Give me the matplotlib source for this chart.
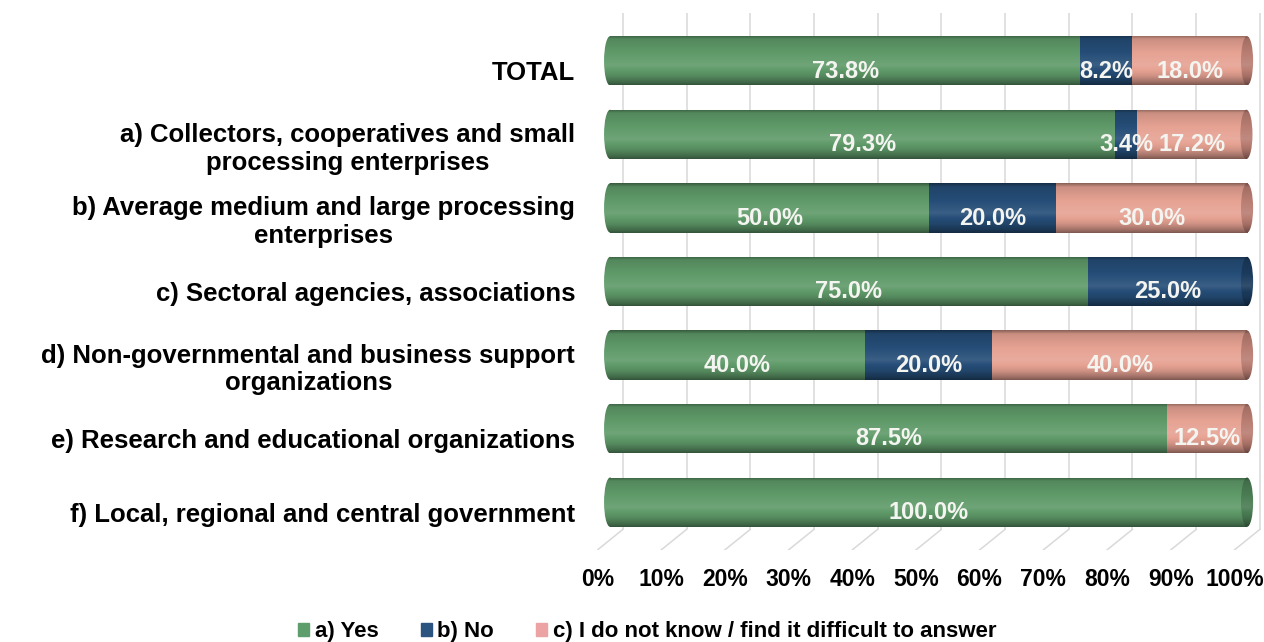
import numpy as np
import matplotlib
matplotlib.use('Agg')
import matplotlib.pyplot as plt
from matplotlib.patches import Rectangle, Ellipse, Patch
from matplotlib.colors import to_rgb, ListedColormap
from matplotlib.transforms import ScaledTranslation

plt.rcParams['font.family'] = ['Liberation Sans', 'DejaVu Sans']
plt.rcParams['font.weight'] = 'bold'

categories = ['TOTAL',
              'a) Collectors, cooperatives and small\nprocessing enterprises',
              'b) Average medium and large processing\nenterprises',
              'c) Sectoral agencies, associations',
              'd) Non-governmental and business support\norganizations',
              'e) Research and educational organizations',
              'f) Local, regional and central government']
yes = [73.8, 79.3, 50.0, 75.0, 40.0, 87.5, 100.0]
no = [8.2, 3.4, 20.0, 25.0, 20.0, 0.0, 0.0]
dont_know = [18.0, 17.2, 30.0, 0.0, 40.0, 12.5, 0.0]
series_names = ['a) Yes', 'b) No', 'c) I do not know / find it difficult to answer']
ticks = [0, 10, 20, 30, 40, 50, 60, 70, 80, 90, 100]

body_colors = ['#5f9a69', '#254d77', '#e6a293']
cap_colors = ['#4a7c53', '#1b3b5d', '#b97d72']
legend_colors = ['#5e9e6c', '#2b5480', '#eba3a3']

DEPTH_X = 2.0      # half of the 3d depth, in % units
BAR_H = 0.67       # cylinder thickness in category units
CAP_RX = 0.95      # half-width of the elliptical ends


def shade(rgb, f):
    c = np.array(rgb)
    if f < 1:
        return c * f
    return c + (1 - c) * (f - 1)


def cyl_cmap(color):
    # darker top/bottom, lighter band a bit below the middle
    t = np.linspace(0, 1, 64)
    prof = np.interp(t, [0, 0.07, 0.35, 0.6, 0.82, 0.95, 1.0],
                     [0.6, 0.88, 1.0, 1.1, 0.9, 0.68, 0.55])
    base = to_rgb(color)
    return ListedColormap([shade(base, f) for f in prof])


def gradient(ax, patch, x0, x1, yc, cmap, z):
    ax.add_patch(patch)
    patch.set_visible(False)
    grad = np.linspace(0, 1, 64).reshape(-1, 1)
    im = ax.imshow(grad, cmap=cmap, aspect='auto', origin='upper',
                   extent=(x0, x1, yc + BAR_H / 2, yc - BAR_H / 2),
                   interpolation='bilinear', zorder=z)
    im.set_clip_path(patch)


fig = plt.figure(figsize=(12.64, 6.42), dpi=100)
ax = fig.add_axes([0.4726, 0.1433, 0.5266, 0.8364])

n = len(categories)
y_top, y_front, y_back = -0.65, n - 1 + 0.65, n - 1 + 0.37

# back wall gridlines + floor lines
for v in ticks:
    ax.plot([v + DEPTH_X, v + DEPTH_X], [y_top, y_back], color='#d9d9d9', lw=1.1, zorder=0)
    ax.plot([v + DEPTH_X, v - DEPTH_X], [y_back, y_front], color='#d9d9d9', lw=1.1, zorder=0)

series = [yes, no, dont_know]
cmaps = [cyl_cmap(c) for c in body_colors]
cap_cmaps = [cyl_cmap(c) for c in cap_colors]

for i in range(n):
    left = 0.0
    vals = [s[i] for s in series]
    last = max(k for k in range(3) if vals[k] > 0)
    first = min(k for k in range(3) if vals[k] > 0)
    for k in range(3):
        v = vals[k]
        if v <= 0:
            continue
        z = 2 + k * 0.1
        if k == first:
            gradient(ax, Ellipse((left, i), 2 * CAP_RX, BAR_H),
                     left - CAP_RX, left + CAP_RX, i, cmaps[k], z)
        gradient(ax, Rectangle((left, i - BAR_H / 2), v, BAR_H),
                 left, left + v, i, cmaps[k], z)
        if k == last:
            gradient(ax, Ellipse((left + v, i), 2 * CAP_RX, BAR_H),
                     left + v - CAP_RX, left + v + CAP_RX, i, cap_cmaps[k], z + 0.05)
        ax.text(left + v / 2, i + 0.14, f'{v:.1f}%', ha='center', va='center',
                color='#f4f4f0', fontsize=17, fontweight='bold', zorder=5)
        left += v

ax.set_xlim(-2.0, 102.5)
ax.set_ylim(y_front, y_top)

ax.set_xticks([v - DEPTH_X for v in ticks])
ax.set_xticklabels([f'{v}%' for v in ticks], fontsize=16.5, fontweight='bold')
ax.set_yticks(range(n))
ax.set_yticklabels(categories, fontsize=18.5, fontweight='bold',
                   multialignment='center', linespacing=1.2)
ax.tick_params(axis='x', length=0, pad=13)
ax.tick_params(axis='y', length=0, pad=16)
shift = ScaledTranslation(0, -0.1, fig.dpi_scale_trans)
for lab in ax.get_yticklabels():
    lab.set_transform(lab.get_transform() + shift)
for sp in ax.spines.values():
    sp.set_visible(False)

handles = [Patch(color=c) for c in legend_colors]
fig.legend(handles, series_names, loc='lower center', bbox_to_anchor=(0.512, -0.025),
           ncol=3, frameon=False, prop={'size': 16, 'weight': 'bold'},
           handlelength=0.5, handleheight=0.5, handletextpad=0.25,
           columnspacing=1.9, borderpad=0.2)

fig.savefig('out.png', dpi=100)
